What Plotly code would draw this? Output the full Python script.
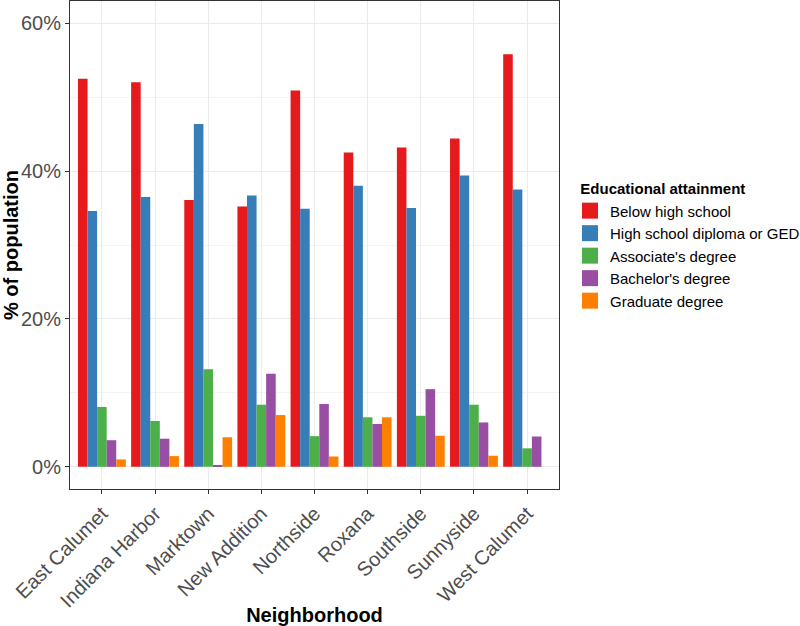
import plotly.graph_objects as go

neighborhoods = ["East Calumet", "Indiana Harbor", "Marktown", "New Addition", "Northside",
                 "Roxana", "Southside", "Sunnyside", "West Calumet"]
below_hs = [52.5, 52.0, 36.1, 35.2, 50.9, 42.5, 43.2, 44.4, 55.8]
hs_ged = [34.6, 36.5, 46.35, 36.7, 34.9, 38.0, 35.0, 39.4, 37.5]
associates = [8.1, 6.2, 13.2, 8.4, 4.15, 6.7, 6.9, 8.4, 2.5]
bachelors = [3.6, 3.8, 0.15, 12.6, 8.5, 5.8, 10.5, 6.0, 4.1]
graduate = [1.0, 1.45, 4.0, 7.0, 1.4, 6.7, 4.2, 1.5, None]

series_names = ["Below high school", "High school diploma or GED", "Associate's degree",
                "Bachelor's degree", "Graduate degree"]
series_values = [below_hs, hs_ged, associates, bachelors, graduate]
colors = ["#E41A1C", "#377EB8", "#4DAF4A", "#984EA3", "#FF7F00"]
y_ticks = [0, 20, 40, 60]
y_tick_labels = ["0%", "20%", "40%", "60%"]

fig = go.Figure()
for name, vals, c in zip(series_names, series_values, colors):
    fig.add_trace(go.Bar(x=neighborhoods, y=vals, name=name, showlegend=False,
                         marker=dict(color=c, line=dict(width=0))))
# legend keys (square swatches like ggplot's)
for name, c in zip(series_names, colors):
    fig.add_trace(go.Scatter(x=[None], y=[None], mode="markers", name=name,
                             marker=dict(symbol="square", size=16, color=c, line=dict(width=0))))

fig.update_layout(
    width=800, height=626,
    barmode="group", bargap=0.1, bargroupgap=0,
    plot_bgcolor="white", paper_bgcolor="white",
    margin=dict(l=70, r=241, t=1, b=137, autoexpand=False),
    font=dict(family="Liberation Sans, Arial, sans-serif", color="#000000"),
    legend=dict(
        title=dict(text="&nbsp;&nbsp;<b>Educational attainment</b>", font=dict(size=15, color="black")),
        font=dict(size=15, color="black"),
        xref="container", yref="container",
        x=0.7125, xanchor="left", y=0.7206, yanchor="top",
        bgcolor="rgba(0,0,0,0)", tracegroupgap=0, itemwidth=30,
    ),
    xaxis=dict(
        title=dict(text="<b>Neighborhood</b>", font=dict(size=20, color="black"), standoff=12),
        tickangle=-45, tickfont=dict(size=20, color="#4D4D4D"),
        showgrid=True, gridcolor="#EBEBEB", gridwidth=1,
        ticks="outside", ticklen=4, tickcolor="#333333",
        showline=True, mirror=True, linecolor="#333333", linewidth=1,
        range=[-0.6, 8.6], zeroline=False, automargin=False,
    ),
    yaxis=dict(
        title=dict(text="<b>% of population</b>", font=dict(size=20, color="black"), standoff=0),
        tickvals=y_ticks, ticktext=y_tick_labels, tickfont=dict(size=20, color="#4D4D4D"),
        showgrid=True, gridcolor="#EBEBEB", gridwidth=1,
        minor=dict(dtick=10, tick0=0, showgrid=True, gridcolor="#F4F4F4", gridwidth=0.6),
        ticks="outside", ticklen=4, tickcolor="#333333",
        showline=True, mirror=True, linecolor="#333333", linewidth=1,
        range=[-3, 63], zeroline=False, automargin=False,
    ),
)

fig.write_html("out.html", config={"displayModeBar": False},
               post_script="document.body.style.margin='0';document.body.style.padding='0';")
